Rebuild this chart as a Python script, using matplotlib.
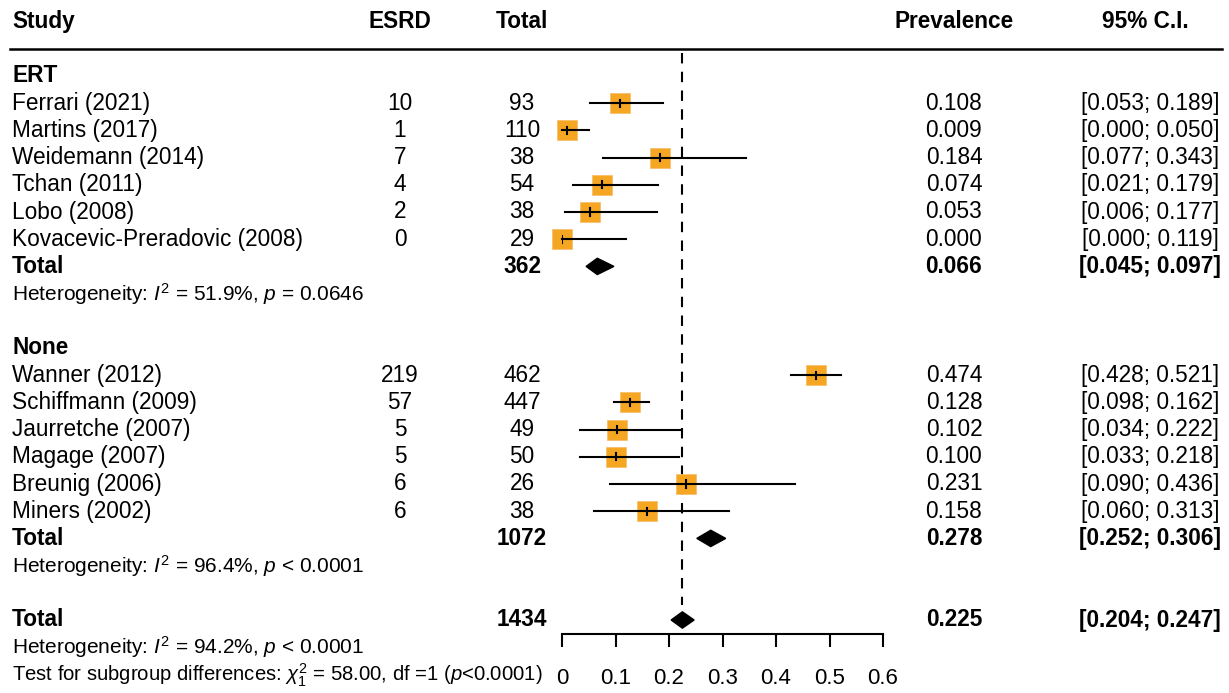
import matplotlib
matplotlib.use("Agg")
import matplotlib.pyplot as plt
import matplotlib.transforms as mtransforms
from matplotlib.patches import Polygon

plt.rcParams["font.family"] = ["Liberation Sans", "DejaVu Sans"]
plt.rcParams["mathtext.fontset"] = "custom"
plt.rcParams["mathtext.rm"] = "Liberation Sans"
plt.rcParams["mathtext.it"] = "Liberation Sans:italic"
plt.rcParams["mathtext.bf"] = "Liberation Sans:bold"

# Data
ert_studies = ["Ferrari (2021)", "Martins (2017)", "Weidemann (2014)", "Tchan (2011)",
               "Lobo (2008)", "Kovacevic-Preradovic (2008)"]
ert_esrd = [10, 1, 7, 4, 2, 0]
ert_total = [93, 110, 38, 54, 38, 29]
ert_prev = [0.108, 0.009, 0.184, 0.074, 0.053, 0.000]
ert_lower = [0.053, 0.000, 0.077, 0.021, 0.006, 0.000]
ert_upper = [0.189, 0.050, 0.343, 0.179, 0.177, 0.119]

none_studies = ["Wanner (2012)", "Schiffmann (2009)", "Jaurretche (2007)", "Magage (2007)",
                "Breunig (2006)", "Miners (2002)"]
none_esrd = [219, 57, 5, 5, 6, 6]
none_total = [462, 447, 49, 50, 26, 38]
none_prev = [0.474, 0.128, 0.102, 0.100, 0.231, 0.158]
none_lower = [0.428, 0.098, 0.034, 0.033, 0.090, 0.060]
none_upper = [0.521, 0.162, 0.222, 0.218, 0.436, 0.313]

# pooled: total n, prevalence, lower, upper
ert_pooled = [362, 0.066, 0.045, 0.097]
none_pooled = [1072, 0.278, 0.252, 0.306]
all_pooled = [1434, 0.225, 0.204, 0.247]

het_ert = r"Heterogeneity: $I^2$ = 51.9%, $p$ = 0.0646"
het_none = r"Heterogeneity: $I^2$ = 96.4%, $p$ < 0.0001"
het_all = r"Heterogeneity: $I^2$ = 94.2%, $p$ < 0.0001"
subgroup_test = r"Test for subgroup differences: $\chi^2_1$ = 58.00, df =1 ($p$<0.0001)"

x_ticks = [0, 0.1, 0.2, 0.3, 0.4, 0.5, 0.6]

# Layout (pixels of a 1229x693 figure)
W, H = 1229, 693
fig = plt.figure(figsize=(W / 100, H / 100), dpi=100)
x0_px, x1_px, ybot_px = 562, 883, 634
ax = fig.add_axes([x0_px / W, 1 - ybot_px / H, (x1_px - x0_px) / W, ybot_px / H])
row0_px, row_h = 76, 27.2
ax.set_xlim(0, 0.6)
ax.set_ylim((ybot_px - row0_px) / row_h, -row0_px / row_h)

for s in ["top", "left", "right"]:
    ax.spines[s].set_visible(False)
ax.spines["bottom"].set_linewidth(1.5)
ax.set_yticks([])
ax.set_xticks(x_ticks)
ax.set_xticklabels([f"{t:g}" for t in x_ticks])
ax.tick_params(axis="x", direction="out", length=9.5, width=1.5, pad=15, labelsize=16)

tr = mtransforms.blended_transform_factory(fig.transFigure, ax.transData)
col_study, col_esrd, col_total = 12 / W, 400 / W, 522 / W
col_prev, col_ci, col_ci_head = 954 / W, 1150 / W, 1145 / W
fs = 16.3
fs_small = 15
orange = "#F5A623"


def txt(x, y, s, ha="left", bold=False, size=fs):
    ax.text(x, y, s, transform=tr, ha=ha, va="center", fontsize=size,
            fontweight="bold" if bold else "normal", clip_on=False)


def diamond(y, est, lo, hi):
    h = 0.3
    ax.add_patch(Polygon([(lo, y), (est, y - h), (hi, y), (est, y + h)],
                         closed=True, facecolor="black", edgecolor="black", clip_on=False))


# header
txt(col_study, -2, "Study", bold=True)
txt(col_esrd, -2, "ESRD", ha="center", bold=True)
txt(col_total, -2, "Total", ha="center", bold=True)
txt(col_prev, -2, "Prevalence", ha="center", bold=True)
txt(col_ci_head, -2, "95% C.I.", ha="center", bold=True)
ax.plot([10 / W, 1222 / W], [-1, -1], transform=tr, color="black", lw=1.8, clip_on=False)

# reference line at overall estimate
ax.vlines(all_pooled[1], -0.85, 19.45, colors="black", linestyles=(0, (5, 4)), lw=1.5)


def group(start, name, studies, esrd, total, prev, lower, upper, pooled, het):
    txt(col_study, start, name, bold=True)
    for i, st in enumerate(studies):
        y = start + 1 + i
        txt(col_study, y, st)
        txt(col_esrd, y, str(esrd[i]), ha="center")
        txt(col_total, y, str(total[i]), ha="center")
        txt(col_prev, y, f"{prev[i]:.3f}", ha="center")
        txt(col_ci, y, f"[{lower[i]:.3f}; {upper[i]:.3f}]", ha="center")
        ax.plot(prev[i], y, marker="s", markersize=15, color=orange,
                markeredgecolor="#F8C070", markeredgewidth=0.6, clip_on=False, zorder=2)
        ax.plot([lower[i], upper[i]], [y, y], color="black", lw=1.5, zorder=3, clip_on=False)
        ax.plot([prev[i], prev[i]], [y - 0.13, y + 0.13], color="black", lw=1.5, zorder=3)
    yt = start + 1 + len(studies)
    txt(col_study, yt, "Total", bold=True)
    txt(col_total, yt, str(pooled[0]), ha="center", bold=True)
    txt(col_prev, yt, f"{pooled[1]:.3f}", ha="center", bold=True)
    txt(col_ci, yt, f"[{pooled[2]:.3f}; {pooled[3]:.3f}]", ha="center", bold=True)
    diamond(yt, pooled[1], pooled[2], pooled[3])
    txt(col_study, yt + 1, het, size=fs_small)


group(0, "ERT", ert_studies, ert_esrd, ert_total, ert_prev, ert_lower, ert_upper, ert_pooled, het_ert)
group(10, "None", none_studies, none_esrd, none_total, none_prev, none_lower, none_upper, none_pooled, het_none)

# overall
txt(col_study, 20, "Total", bold=True)
txt(col_total, 20, str(all_pooled[0]), ha="center", bold=True)
txt(col_prev, 20, f"{all_pooled[1]:.3f}", ha="center", bold=True)
txt(col_ci, 20, f"[{all_pooled[2]:.3f}; {all_pooled[3]:.3f}]", ha="center", bold=True)
diamond(20, all_pooled[1], all_pooled[2], all_pooled[3])
txt(col_study, 21, het_all, size=fs_small)
txt(col_study, 22.05, subgroup_test, size=14.6)

fig.savefig("out.png", dpi=100)
